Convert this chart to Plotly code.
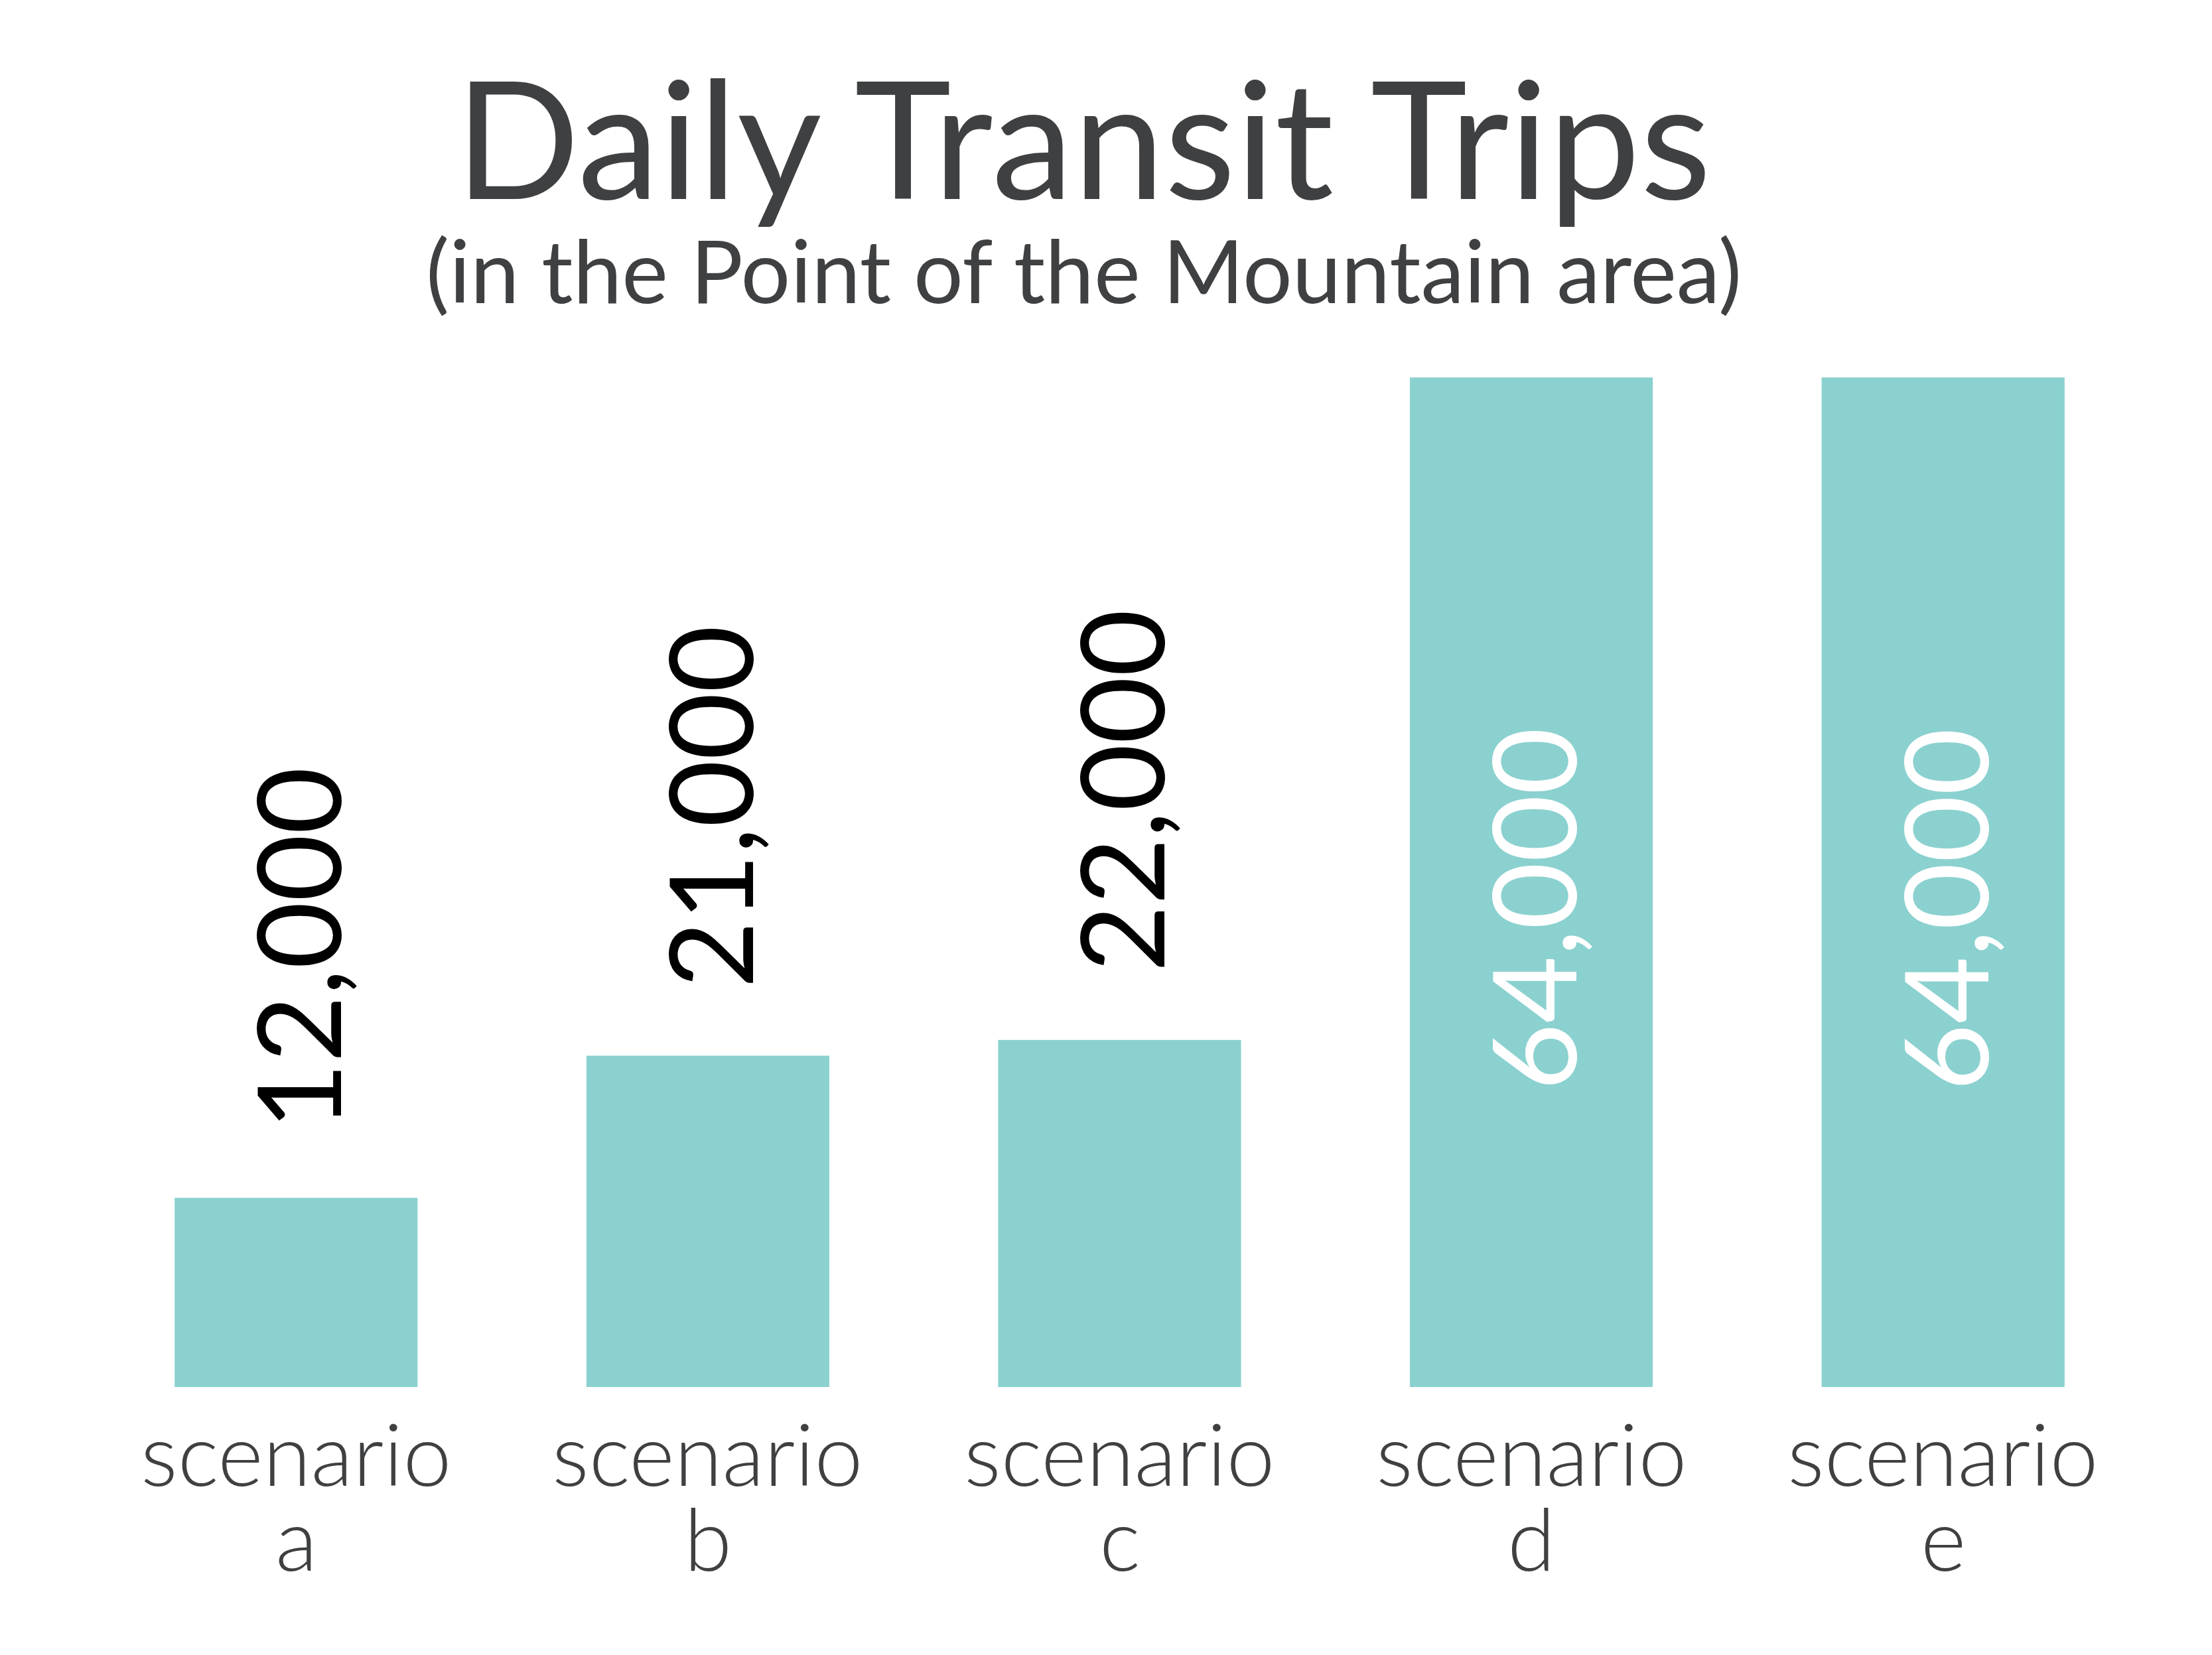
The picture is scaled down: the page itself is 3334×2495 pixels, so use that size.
import plotly.graph_objects as go

# ---- data ----
scenario_word = "scenario"
scenarios = ["a", "b", "c", "d", "e"]
daily_trips = [12000, 21000, 22000, 64000, 64000]
title_text = "Daily Transit Trips"
subtitle_text = "(in the Point of the Mountain area)"

# ---- style ----
BAR_COLOR = "#8BD1D0"
TEXT_GREY = "#3F4042"
W, H = 3334, 2495
M_L, M_R, M_T, M_B = 128, 103, 561, 412
PLOT_H = H - M_T - M_B

fig = go.Figure(
    go.Bar(
        x=scenarios,
        y=daily_trips,
        marker=dict(color=BAR_COLOR, line=dict(width=0)),
        hoverinfo="skip",
    )
)

annotations = []
ymax = max(daily_trips)

# value labels
for s, v in zip(scenarios, daily_trips):
    txt = f"{v:,}"
    if v > 0.6 * ymax:
        annotations.append(dict(
            x=s, y=v / 2, xref="x", yref="y", text=txt, textangle=-90,
            showarrow=False, xanchor="center", yanchor="middle", yshift=-41,
            font=dict(family="Lato", size=175, color="#FFFFFF"),
        ))
    else:
        annotations.append(dict(
            x=s, y=v, xref="x", yref="y", text=txt, textangle=-90,
            showarrow=False, xanchor="center", yanchor="bottom", yshift=100,
            font=dict(family="Lato", size=175, color="#000000"),
        ))

# category labels (two lines with tight spacing)
for s in scenarios:
    annotations.append(dict(
        x=s, y=0, xref="x", yref="paper", text=scenario_word,
        showarrow=False, xanchor="center", yanchor="top", yshift=-18,
        font=dict(family="Lato", size=131, color=TEXT_GREY, weight=300),
    ))
    annotations.append(dict(
        x=s, y=0, xref="x", yref="paper", text=s,
        showarrow=False, xanchor="center", yanchor="top", yshift=-146,
        font=dict(family="Lato", size=131, color=TEXT_GREY, weight=300),
    ))

# title + subtitle
annotations.append(dict(
    x=(1624 - M_L) / (W - M_L - M_R), y=(H - M_B - 46) / PLOT_H,
    xref="paper", yref="paper", text=title_text, showarrow=False,
    xanchor="center", yanchor="top",
    font=dict(family="Lato", size=247, color=TEXT_GREY),
))
annotations.append(dict(
    x=(1625 - M_L) / (W - M_L - M_R), y=(H - M_B - 317) / PLOT_H,
    xref="paper", yref="paper", text=subtitle_text, showarrow=False,
    xanchor="center", yanchor="top",
    font=dict(family="Lato", size=132, color=TEXT_GREY),
))

fig.update_layout(
    width=W, height=H,
    margin=dict(l=M_L, r=M_R, t=M_T, b=M_B, pad=0),
    paper_bgcolor="white", plot_bgcolor="white",
    showlegend=False,
    bargap=0.41,
    annotations=annotations,
    xaxis=dict(showticklabels=False, showgrid=False, zeroline=False,
               showline=False, ticks=""),
    yaxis=dict(range=[0, ymax], visible=False, showgrid=False, zeroline=False),
)

fig.write_html("out.html")
